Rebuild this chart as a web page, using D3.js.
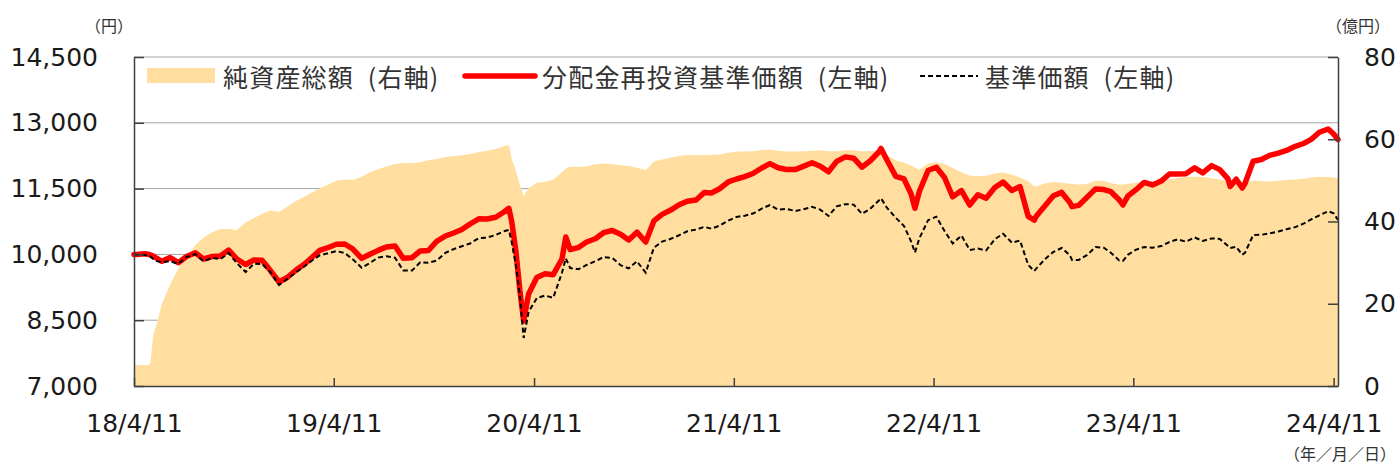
<!DOCTYPE html>
<html><head><meta charset="utf-8">
<script src="https://cdn.jsdelivr.net/npm/d3@7"></script>
<style>body{margin:0;background:#fff;} svg{display:block;}</style>
</head><body>
<svg id="chart" width="1399" height="467"></svg>
<script>
// ---- data ----
const dates = ["2018-04-11","2018-04-16","2018-05-01","2018-05-09","2018-05-11","2018-05-14","2018-05-16","2018-05-23","2018-06-01","2018-06-16",
"2018-07-01","2018-07-16","2018-08-01","2018-08-16","2018-09-01","2018-09-16","2018-10-01","2018-10-16","2018-11-01","2018-11-16",
"2018-12-01","2018-12-16","2019-01-01","2019-01-16","2019-02-01","2019-02-16","2019-03-01","2019-03-16","2019-04-01","2019-04-16",
"2019-05-01","2019-05-16","2019-06-01","2019-06-16","2019-07-01","2019-07-16","2019-08-01","2019-08-16","2019-09-01","2019-09-16",
"2019-10-01","2019-10-16","2019-11-01","2019-11-16","2019-12-01","2019-12-16","2020-01-01","2020-01-16","2020-02-01","2020-02-16",
"2020-02-25","2020-03-01","2020-03-09","2020-03-16","2020-03-23","2020-04-01","2020-04-16","2020-05-01","2020-05-16","2020-06-01",
"2020-06-08","2020-06-16","2020-07-01","2020-07-16","2020-08-01","2020-08-16","2020-09-01","2020-09-16","2020-10-01","2020-10-16",
"2020-11-01","2020-11-16","2020-12-01","2020-12-16","2021-01-01","2021-01-16","2021-02-01","2021-02-16","2021-03-01","2021-03-16",
"2021-04-01","2021-04-16","2021-05-01","2021-05-16","2021-06-01","2021-06-16","2021-07-01","2021-07-16","2021-08-01","2021-08-16",
"2021-09-01","2021-09-16","2021-10-01","2021-10-16","2021-11-01","2021-11-16","2021-12-01","2021-12-16","2022-01-01","2022-01-05",
"2022-01-16","2022-02-01","2022-02-16","2022-03-01","2022-03-08","2022-03-16","2022-04-01","2022-04-16","2022-05-01","2022-05-16",
"2022-06-01","2022-06-16","2022-07-01","2022-07-16","2022-08-01","2022-08-16","2022-09-01","2022-09-16","2022-10-01","2022-10-12",
"2022-10-16","2022-11-01","2022-11-16","2022-12-01","2022-12-16","2022-12-20","2023-01-01","2023-01-16","2023-02-01","2023-02-16",
"2023-03-01","2023-03-16","2023-03-23","2023-04-01","2023-04-16","2023-05-01","2023-05-16","2023-06-01","2023-06-16","2023-07-01",
"2023-07-16","2023-08-01","2023-08-16","2023-09-01","2023-09-16","2023-10-01","2023-10-05","2023-10-16","2023-10-27","2023-11-01",
"2023-11-16","2023-12-01","2023-12-16","2024-01-01","2024-01-16","2024-02-01","2024-02-16","2024-03-01","2024-03-16","2024-04-01",
"2024-04-11","2024-04-19"];

// 純資産総額 (億円, right axis)
const netAssets = [5.1,5.1,5.1,5.1,5.6,9.6,12.2,15.3,20.0,24.6,
28.6,31.2,34.2,36.1,37.4,38.2,38.2,37.9,39.8,40.8,
41.9,42.7,42.4,43.6,45.0,46.0,47.0,48.0,49.0,49.9,
50.2,50.1,50.9,52.0,52.7,53.4,54.0,54.2,54.2,54.4,
54.9,55.2,55.7,55.9,56.1,56.4,56.9,57.2,57.6,58.3,
58.6,55.3,52.2,49.0,46.2,48.1,49.4,49.6,50.2,52.0,
52.9,53.3,53.3,53.4,53.9,54.1,53.9,53.7,53.5,53.1,
52.5,54.6,55.1,55.5,55.9,56.2,56.2,56.2,56.2,56.3,
56.7,57.0,57.0,57.1,57.4,57.5,57.2,57.0,57.0,57.1,
57.2,57.3,57.1,57.1,57.3,57.3,57.1,57.1,57.3,57.4,
56.2,54.9,54.3,53.6,53.1,52.6,54.1,54.4,54.0,53.0,
52.0,51.2,51.0,51.1,51.7,51.9,51.4,50.7,49.8,48.5,
48.6,49.3,49.6,49.4,49.2,49.1,49.0,49.1,49.9,49.9,
49.3,49.0,49.0,49.2,49.4,49.6,49.8,50.0,50.2,50.6,
50.9,50.9,50.8,50.5,50.2,49.9,49.8,49.6,49.4,49.4,
50.0,49.8,49.7,49.9,50.1,50.2,50.4,50.7,50.9,50.8,
50.7,50.5];

// 分配金再投資基準価額 (円, left axis)
const navReinvested = [10000,9998,10016,9998,9986,9975,9964,9907,9843,9927,
9811,9952,10037,9895,9952,9964,10100,9895,9770,9872,
9866,9638,9371,9474,9645,9774,9918,10091,10157,10230,
10237,10123,9909,10005,10091,10169,10192,9911,9925,10078,
10089,10296,10420,10488,10568,10693,10812,10807,10848,10967,
11051,10762,10055,9189,8482,9097,9474,9560,9537,9895,
10397,10112,10155,10283,10356,10495,10545,10458,10328,10506,
10283,10762,10912,11005,11131,11213,11240,11411,11400,11496,
11655,11719,11774,11844,11970,12070,11974,11936,11933,12006,
12088,12011,11883,12120,12223,12193,11988,12129,12334,12414,
12145,11778,11719,11377,11051,11434,11913,11986,11753,11313,
11454,11126,11361,11281,11525,11648,11457,11546,10864,10784,
10876,11115,11336,11413,11183,11088,11117,11297,11493,11477,
11429,11247,11126,11327,11475,11641,11584,11671,11833,11835,
11840,11972,11858,12024,11933,11721,11550,11714,11514,11616,
12125,12164,12257,12309,12369,12464,12528,12622,12784,12859,
12745,12619];

// 基準価額 (円, left axis)
const nav = [10000,9990,9986,9975,9952,9918,9897,9850,9818,9845,
9786,9941,10007,9845,9922,9893,10032,9799,9599,9786,
9783,9599,9302,9439,9590,9724,9850,9975,10027,10075,
10032,9886,9695,9804,9927,9959,9925,9633,9631,9820,
9811,9859,10037,10121,10185,10249,10369,10383,10442,10527,
10556,10292,9736,9059,8094,8687,9006,9063,9011,9581,
9911,9690,9661,9759,9845,9941,9918,9754,9681,9843,
9583,10155,10292,10351,10436,10527,10566,10629,10586,10654,
10771,10855,10882,10932,11044,11122,11021,11040,10989,11028,
11083,11021,10876,11097,11145,11135,10926,11037,11229,11279,
11058,10834,10648,10294,10043,10365,10780,10860,10534,10249,
10431,10100,10132,10089,10347,10472,10269,10315,9759,9622,
9683,9897,10057,10146,9982,9872,9872,9984,10167,10153,
10037,9863,9850,9991,10110,10167,10153,10189,10283,10342,
10290,10388,10306,10365,10351,10192,10144,10171,9993,10034,
10442,10447,10479,10524,10572,10622,10702,10798,10889,10985,
10937,10784];

const leftTicks = [7000, 8500, 10000, 11500, 13000, 14500];
const rightTicks = [0, 20, 40, 60, 80];
const xTickDates = ["2018-04-11","2019-04-11","2020-04-11","2021-04-11","2022-04-11","2023-04-11","2024-04-11"];
const xTickLabels = ["18/4/11","19/4/11","20/4/11","21/4/11","22/4/11","23/4/11","24/4/11"];
const legendLabels = ["純資産総額 (右軸)", "分配金再投資基準価額 (左軸)", "基準価額 (左軸)"];
const unitLeft = "（円）", unitRight = "（億円）", unitX = "（年／月／日）";

// ---- drawing ----
const parse = d3.timeParse("%Y-%m-%d");
const L = 134, R = 1338, T = 57, B = 386;
const svg = d3.select("#chart");
const x = d3.scaleTime().domain([parse("2018-04-11"), parse("2024-04-19")]).range([L, R]);
const yL = d3.scaleLinear().domain([7000, 14500]).range([B, T]);
const yR = d3.scaleLinear().domain([0, 80]).range([B, T]);

const rows = dates.map((d, i) => ({date: parse(d), na: netAssets[i], re: navReinvested[i], nv: nav[i]}));

const numFont = "'DejaVu Sans', Verdana, sans-serif";
const jpFont = "'Noto Sans CJK JP', 'Noto Sans', sans-serif";
const AREA = "#FFDEA0", AXIS = "#404040";

// gridlines
svg.append("g").selectAll("line").data(leftTicks).join("line")
  .attr("x1", L).attr("x2", R).attr("y1", d => yL(d)).attr("y2", d => yL(d))
  .attr("stroke", "#a6a6a6").attr("stroke-width", 1);

// area
svg.append("path").datum(rows)
  .attr("fill", AREA)
  .attr("d", d3.area().x(d => x(d.date)).y0(B).y1(d => yR(d.na)));

// red line
svg.append("path").datum(rows)
  .attr("fill", "none").attr("stroke", "#FF0000").attr("stroke-width", 5.5)
  .attr("stroke-linejoin", "round").attr("stroke-linecap", "round")
  .attr("d", d3.line().x(d => x(d.date)).y(d => yL(d.re)));

// black dashed
svg.append("path").datum(rows)
  .attr("fill", "none").attr("stroke", "#000").attr("stroke-width", 2)
  .attr("stroke-dasharray", "5,3")
  .attr("d", d3.line().x(d => x(d.date)).y(d => yL(d.nv)));

// axes
function styleAxis(g) {
  g.selectAll(".domain").attr("stroke", AXIS).attr("stroke-width", 1.5);
  g.selectAll(".tick line").attr("stroke", AXIS).attr("stroke-width", 1.5);
  g.selectAll(".tick text").attr("fill", "#1a1a1a").style("font-family", numFont).style("font-size", "25px");
}
svg.append("g").attr("transform", `translate(${L},0)`)
  .call(d3.axisLeft(yL).tickValues(leftTicks).tickFormat(d3.format(",")).tickSize(-10).tickSizeOuter(0).tickPadding(36))
  .call(styleAxis);
svg.append("g").attr("transform", `translate(${R},0)`)
  .call(d3.axisRight(yR).tickValues(rightTicks).tickSize(-10).tickSizeOuter(0).tickPadding(26))
  .call(styleAxis);
svg.append("g").attr("transform", `translate(0,${B})`)
  .call(d3.axisBottom(x).tickValues(xTickDates.map(parse)).tickFormat((d, i) => xTickLabels[i]).tickSize(-8).tickSizeOuter(0).tickPadding(28))
  .call(styleAxis);

// unit labels
const unitStyle = s => s.style("font-family", jpFont).style("font-size", "16px").attr("fill", "#333").attr("dominant-baseline", "central");
svg.append("text").attr("x", 109).attr("y", 25).attr("text-anchor", "middle").text(unitLeft).call(unitStyle);
svg.append("text").attr("x", 1358).attr("y", 25).attr("text-anchor", "middle").text(unitRight).call(unitStyle);
svg.append("text").attr("x", 1396).attr("y", 453).attr("text-anchor", "end").text(unitX).call(unitStyle);

// legend
const lg = svg.append("g");
const legText = (xx, t) => lg.append("text").attr("x", xx).attr("y", 76).attr("dominant-baseline", "central")
  .style("font-family", jpFont).style("font-size", "25px").style("letter-spacing", "1.2px").style("word-spacing", "7px")
  .attr("fill", "#333").text(t);
lg.append("rect").attr("x", 147).attr("y", 68).attr("width", 68).attr("height", 15).attr("fill", AREA);
legText(223, legendLabels[0]);
lg.append("line").attr("x1", 465).attr("x2", 535).attr("y1", 76).attr("y2", 76).attr("stroke", "#FF0000").attr("stroke-width", 5.5).attr("stroke-linecap", "round");
legText(542, legendLabels[1]);
lg.append("line").attr("x1", 920).attr("x2", 978).attr("y1", 76).attr("y2", 76).attr("stroke", "#000").attr("stroke-width", 2).attr("stroke-dasharray", "5,3");
legText(985, legendLabels[2]);
</script>
</body></html>
